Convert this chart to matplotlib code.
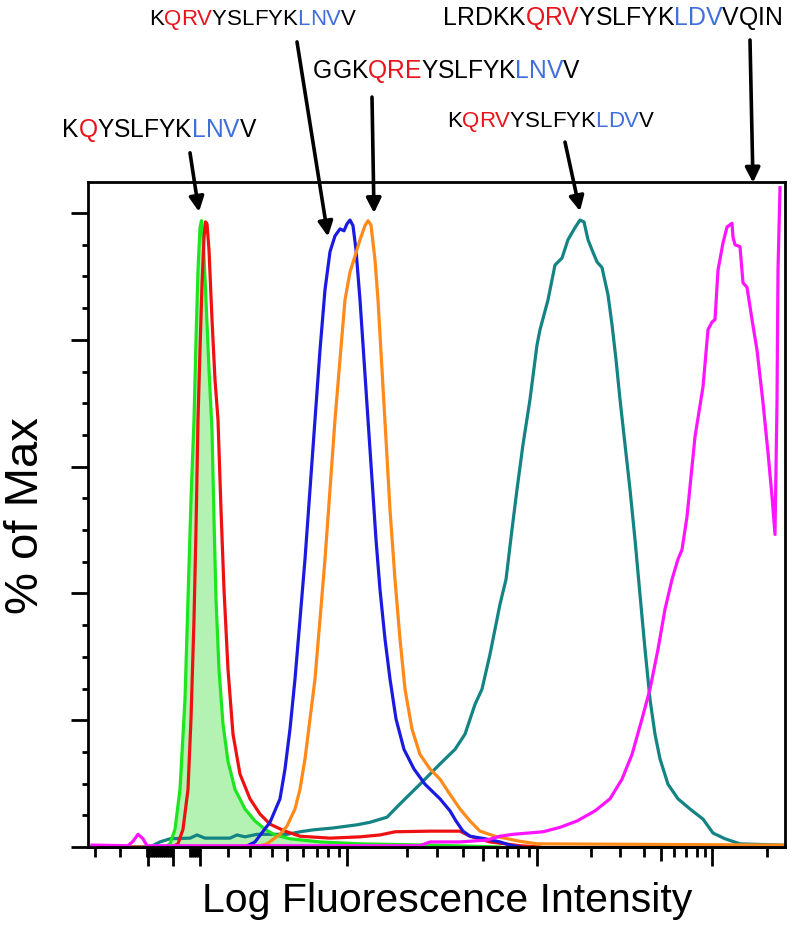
"""
    flow cytometry overlay histograms of peptide binding, FlowJo style
"""

import numpy as np
import matplotlib
matplotlib.use("Agg")
from matplotlib import pyplot as plt
from matplotlib.font_manager import FontProperties

plt.rcParams['font.family'] = ['Liberation Sans', 'DejaVu Sans']

# x values are display channels of the biexponential axis (0 .. 697),
# y values are % of max
green_x = [4, 77, 82, 87, 92, 97, 100, 103, 106, 108, 110, 112, 113.5, 115, 118, 121, 124, 126,
           128, 131, 135, 140, 147, 157, 167, 177, 187, 202, 232, 272, 342, 412]
green_y = [0, 0, 0.5, 2.8, 9.1, 23.3, 39.1, 54.8, 67.4, 80.0, 91.0, 97.7, 98.8, 96.5, 86.3, 75.3,
           65.8, 51.7, 39.1, 28.0, 19.4, 13.5, 9.1, 6.0, 4.1, 2.8, 1.9, 1.3, 0.8, 0.5, 0.3, 0]

red_x = [4, 84, 90, 95, 100, 103, 106, 108, 110, 112, 114, 116, 117.5, 119, 121, 124, 127, 130,
         133, 136, 140, 145, 152, 162, 172, 182, 197, 212, 242, 272, 292, 307, 342, 372, 382,
         402, 432, 452]
red_y = [0, 0, 0.5, 2.8, 9.1, 20.2, 35.9, 50.1, 67.4, 78.4, 88.7, 96.1, 98.6, 98.3, 94.2, 83.2,
         73.7, 67.4, 53.2, 40.6, 28.0, 17.8, 11.5, 7.6, 5.2, 3.6, 2.5, 1.7, 1.4, 1.6, 1.9, 2.4,
         2.5, 2.5, 1.7, 0.8, 0.2, 0]

blue_x = [4, 157, 167, 182, 192, 197, 202, 207, 212, 217, 222, 227, 232, 237, 242, 247, 252, 256,
          259, 262, 265, 268, 272, 276, 280, 284, 288, 292, 297, 302, 308, 316, 326, 337, 352,
          362, 368, 375, 382, 397, 412, 422, 432]
blue_y = [0, 0, 0.8, 3.9, 7.6, 12.3, 18.6, 26.5, 35.9, 45.4, 56.4, 67.4, 78.4, 87.9, 93.9, 96.4,
          97.5, 97.2, 98.3, 98.9, 98.0, 94.2, 86.3, 76.9, 67.4, 58.0, 48.5, 40.6, 32.8, 26.5,
          20.2, 15.4, 12.3, 9.9, 7.6, 5.7, 4.1, 2.5, 1.7, 1.3, 0.8, 0.3, 0]

orange_x = [4, 167, 179, 192, 199, 207, 212, 217, 222, 227, 232, 237, 242, 247, 252, 257, 262,
            267, 272, 277, 280, 283, 287, 290, 294, 298, 302, 307, 312, 317, 324, 332, 342, 352,
            362, 372, 382, 392, 407, 432, 449, 697]
orange_y = [0, 0, 0.5, 2.0, 3.3, 6.0, 9.1, 13.9, 20.2, 26.5, 35.9, 45.4, 56.4, 67.4, 76.9, 86.3,
            90.7, 93.2, 95.8, 98.0, 98.8, 98.1, 92.6, 86.3, 75.3, 64.3, 53.2, 42.2, 32.8, 24.9,
            18.6, 14.6, 12.3, 10.7, 8.3, 6.0, 4.1, 2.5, 1.7, 0.9, 0.5, 0.3]

teal_x = [4, 62, 72, 82, 102, 109, 117, 142, 149, 157, 169, 199, 212, 225, 245, 269, 282, 299,
          312, 332, 352, 367, 377, 387, 394, 402, 412, 418, 424, 429, 435, 442, 449, 452, 460,
          467, 474, 480, 487, 492, 496, 500, 504, 509, 514, 520, 524, 528, 532, 537, 542, 547,
          552, 557, 562, 567, 572, 580, 590, 602, 615, 625, 637, 652, 694]
teal_y = [0, 0, 0.8, 1.3, 1.4, 1.9, 1.4, 1.4, 1.9, 1.6, 2.0, 2.0, 2.4, 2.7, 3.0, 3.5, 3.9, 4.7,
          6.8, 9.9, 13.1, 15.4, 17.8, 22.5, 24.9, 30.4, 38.3, 42.2, 50.1, 56.4, 63.5, 70.6, 79.2,
          81.6, 86.3, 91.8, 92.9, 95.8, 97.7, 98.9, 98.6, 95.8, 94.2, 92.3, 91.4, 87.1, 82.4,
          76.9, 70.6, 63.5, 56.4, 48.5, 39.8, 31.2, 23.3, 17.8, 13.9, 9.9, 7.6, 6.0, 4.4, 2.2,
          1.3, 0.5, 0.3]

magenta_x = [4, 40, 45, 50, 55, 59, 332, 342, 352, 372, 399, 412, 425, 455, 472, 489, 507, 522,
             534, 544, 554, 562, 570, 577, 584, 590, 594, 599, 607, 615, 620, 624, 627, 630, 635,
             639, 644, 645, 647, 652, 655, 659, 664, 669, 675, 680, 684, 687, 689, 690, 692]
magenta_y = [0.3, 0.2, 0.9, 2.0, 1.3, 0.2, 0.2, 0.8, 0.8, 0.8, 1.1, 1.7, 2.0, 2.4, 3.1, 4.1, 5.7,
             7.6, 10.7, 14.6, 20.2, 24.9, 31.2, 37.5, 42.2, 45.4, 46.9, 52.1, 64.7, 72.6, 81.6,
             82.8, 83.2, 91.0, 95.3, 97.8, 98.4, 96.2, 95.0, 94.7, 89.0, 88.3, 83.2, 78.4, 70.1,
             62.2, 55.3, 49.3, 70.1, 91.0, 104.0]

# biexponential axis ticks, in display channels
long_ticks = [60, 85, 112, 259, 449, 624]
mid_ticks = [199, 395, 573]
short_ticks = [7, 32, 59, 61, 63, 65, 67, 69, 71, 73, 75, 77, 79, 81, 83, 102, 104, 106, 108,
               110, 140, 162, 184, 215, 229, 240, 251, 319, 349, 375, 409, 419, 430, 441, 503,
               532, 556, 586, 598, 609, 617, 679]

# peptide labels: (segment, colour) pieces, font size, text position, arrow start and tip
labels = [
    ([("K", "k"), ("Q", "r"), ("YSLFYK", "k"), ("LNV", "b"), ("V", "k")],
     17.7, (62, 137), (102, 109.5), (111, 100.2)),
    ([("K", "k"), ("QRV", "r"), ("YSLFYK", "k"), ("LNV", "b"), ("V", "k")],
     16.0, (149, 25), (209, 127.0), (240, 96.3)),
    ([("GGK", "k"), ("QRE", "r"), ("YSLFYK", "k"), ("LNV", "b"), ("V", "k")],
     17.7, (313, 78), (284, 118.3), (286, 100.0)),
    ([("K", "k"), ("QRV", "r"), ("YSLFYK", "k"), ("LDV", "b"), ("V", "k")],
     16.0, (447, 127), (477, 111.2), (492, 100.3)),
    ([("LRDKK", "k"), ("QRV", "r"), ("YSLFYK", "k"), ("LDV", "b"), ("VQIN", "k")],
     17.9, (443, 25), (662, 127.3), (665, 104.8)),
]
text_colors = {"k": "black", "r": "#e8141c", "b": "#3f6fdc"}

W, H = 794, 928
fig = plt.figure(figsize=(W / 100, H / 100), dpi=100)
ax = fig.add_axes([88 / W, 1 - 848 / H, 697 / W, 665 / H])

lw = 2.3
ax.fill_between(green_x, green_y, color="#b3f2b3", lw=0)
ax.plot(teal_x, teal_y, color="#138383", lw=lw)
ax.plot(green_x, green_y, color="#1ee61e", lw=lw)
ax.plot(red_x, red_y, color="#ee1111", lw=lw)
ax.plot(blue_x, blue_y, color="#1a1ae0", lw=lw)
ax.plot(orange_x, orange_y, color="#ff8a1a", lw=lw)
ax.plot(magenta_x, magenta_y, color="#ff14ff", lw=lw, clip_on=False)

ax.set_xlim(0, 697)
ax.set_ylim(0, 104.9)

for s in ax.spines.values():
    s.set_linewidth(2.0)

ax.set_xticks(long_ticks)
ax.set_xticks(short_ticks, minor=True)
ax.tick_params(axis="x", which="major", length=14, width=2.0, labelbottom=False)
ax.tick_params(axis="x", which="minor", length=7, width=2.0)
sec = ax.secondary_xaxis("bottom")
sec.set_xticks(mid_ticks)
sec.tick_params(length=10, width=2.0, labelbottom=False)
sec.spines["bottom"].set_linewidth(2.0)

ax.set_yticks(np.arange(0, 101, 20))
ax.set_yticks(np.arange(0, 101, 5), minor=True)
ax.tick_params(axis="y", which="major", length=12, width=2.0, labelleft=False)
ax.tick_params(axis="y", which="minor", length=4.5, width=2.0)

ax.set_xlabel("Log Fluorescence Intensity", fontsize=29.5)
ax.xaxis.set_label_coords(0.515, -34 / 665)
ax.set_ylabel("% of Max", fontsize=34)
ax.yaxis.set_label_coords(-40 / 697, 0.5)

# coloured peptide labels, laid out letter by letter
renderer = fig.canvas.get_renderer()

for pieces, size, (tx, ty), start, tip in labels:
    prop = FontProperties(family="Liberation Sans", size=size)
    full = "".join(seg for seg, c in pieces)
    colours = "".join(c * len(seg) for seg, c in pieces)

    def text_width(s):
        return renderer.get_text_width_height_descent(s, prop, ismath=False)[0]

    for i, ch in enumerate(full):
        off = text_width(full[:i + 1]) - text_width(ch) if i else 0
        fig.text((tx + off) / W, 1 - ty / H, ch, fontproperties=prop,
                 color=text_colors[colours[i]], ha="left", va="baseline")
    ax.annotate("", xy=tip, xytext=start, annotation_clip=False,
                arrowprops=dict(arrowstyle="-|>", lw=2.6, color="black",
                                mutation_scale=22, shrinkA=0, shrinkB=0))

fig.savefig("out.png", dpi=100)
